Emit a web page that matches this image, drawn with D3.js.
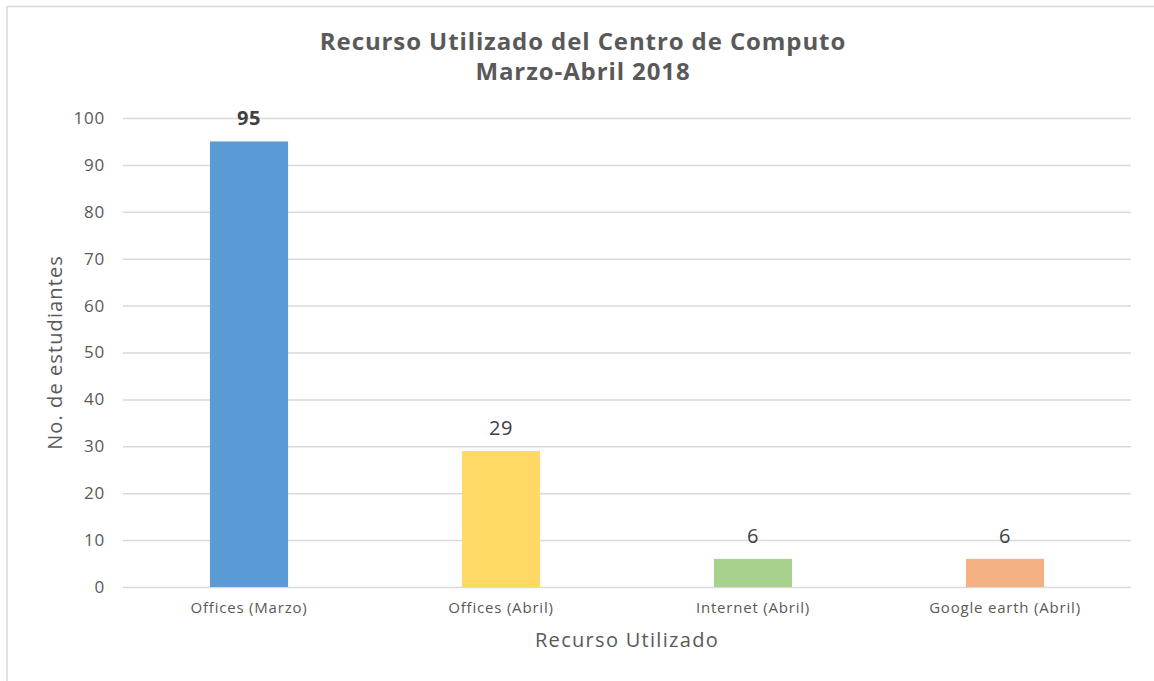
<!DOCTYPE html>
<html>
<head>
<meta charset="utf-8">
<script src="https://cdn.jsdelivr.net/npm/d3@7"></script>
<style>
  body { margin: 0; background: #fff; }
  text { font-family: "Open Sans", "DejaVu Sans", sans-serif; }
</style>
</head>
<body>
<div id="container"></div>
<script>
const categories = ["Offices (Marzo)", "Offices (Abril)", "Internet (Abril)", "Google earth (Abril)"];
const values = [95, 29, 6, 6];
const barColors = ["#5B9BD5", "#FFD966", "#A9D18E", "#F4B183"];
const yTicks = [0, 10, 20, 30, 40, 50, 60, 70, 80, 90, 100];
const titleLines = ["Recurso Utilizado del Centro de Computo", "Marzo-Abril 2018"];

const W = 1154, H = 681;
const margin = {top: 118, right: 23, bottom: 94, left: 123},
    width = W - margin.left - margin.right,
    height = H - margin.top - margin.bottom;

const root = d3.select("#container")
  .append("svg")
    .attr("width", W)
    .attr("height", H);

// chart border
root.append("rect")
  .attr("x", 7).attr("y", 6.5)
  .attr("width", W + 10).attr("height", H + 10)
  .attr("fill", "none")
  .attr("stroke", "#d9d9d9")
  .attr("stroke-width", 1.5);

const svg = root.append("g")
  .attr("transform", "translate(" + margin.left + "," + margin.top + ")");

const x = d3.scaleBand()
  .domain(categories)
  .range([0, width])
  .paddingInner(0.69)
  .paddingOuter(0.345);

const y = d3.scaleLinear()
  .domain([0, 100])
  .range([height, 0]);

// gridlines + y labels
const yAxis = svg.append("g")
  .call(d3.axisLeft(y).tickValues(yTicks).tickSize(-width).tickPadding(18))
yAxis.select(".domain").remove();
yAxis.selectAll("line").attr("stroke", "#d9d9d9").attr("stroke-width", 1.5);
yAxis.selectAll("text")
  .attr("fill", "#595959")
  .style("font-size", "17px")
  .style("letter-spacing", "0.8px");

// x labels
const xAxis = svg.append("g")
  .attr("transform", "translate(0," + height + ")")
  .call(d3.axisBottom(x).tickSize(0).tickPadding(15));
xAxis.select(".domain").remove();
xAxis.selectAll("text")
  .attr("fill", "#595959")
  .style("font-size", "15px")
  .style("letter-spacing", "0.8px");

// bars
svg.selectAll(".bar")
  .data(values)
  .enter()
  .append("rect")
    .attr("class", "bar")
    .attr("x", (d, i) => x(categories[i]))
    .attr("y", d => y(d))
    .attr("width", x.bandwidth())
    .attr("height", d => height - y(d))
    .attr("fill", (d, i) => barColors[i]);

// value labels
svg.selectAll(".label")
  .data(values)
  .enter()
  .append("text")
    .attr("class", "label")
    .attr("x", (d, i) => x(categories[i]) + x.bandwidth() / 2)
    .attr("y", d => y(d) - 16)
    .attr("text-anchor", "middle")
    .attr("fill", "#404040")
    .style("font-size", "20px")
    .style("letter-spacing", "0.5px")
    .style("font-weight", (d, i) => i === 0 ? "bold" : "normal")
    .text(d => d);

// title
root.append("text")
  .attr("x", 583)
  .attr("y", 50)
  .attr("text-anchor", "middle")
  .attr("fill", "#595959")
  .style("font-size", "24px")
  .style("font-weight", "bold")
  .style("letter-spacing", "0.9px")
  .selectAll("tspan")
  .data(titleLines)
  .enter()
  .append("tspan")
    .attr("x", 583)
    .attr("dy", (d, i) => i === 0 ? 0 : 30)
    .text(d => d);

// axis titles
root.append("text")
  .attr("x", margin.left + width / 2)
  .attr("y", 647)
  .attr("text-anchor", "middle")
  .attr("fill", "#595959")
  .style("font-size", "20px")
  .style("letter-spacing", "1.3px")
  .text("Recurso Utilizado");

root.append("text")
  .attr("transform", "translate(62," + (margin.top + height / 2) + ") rotate(-90)")
  .attr("text-anchor", "middle")
  .attr("fill", "#595959")
  .style("font-size", "20px")
  .style("letter-spacing", "1.1px")
  .text("No. de estudiantes");
</script>
</body>
</html>
